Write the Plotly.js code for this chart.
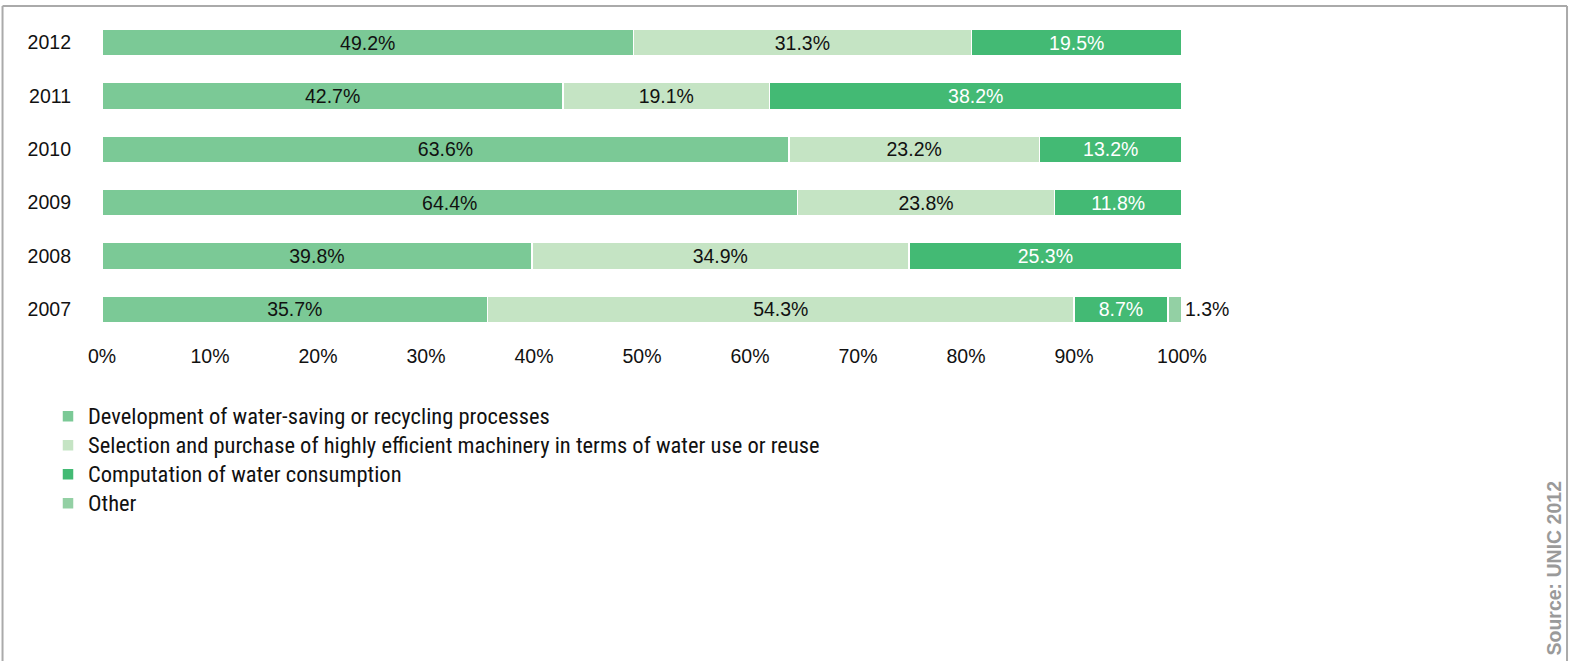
<!DOCTYPE html>
<html>
<head>
<meta charset="utf-8">
<script src="https://cdn.plot.ly/plotly-3.0.1.min.js"></script>
<style>html,body{margin:0;padding:0;background:#fff;}#chart{width:1569px;height:661px;}</style>
</head>
<body>
<div id="chart"></div>
<script>
var years = ["2007", "2008", "2009", "2010", "2011", "2012"];
var seriesNames = [
  "Development of water-saving or recycling processes",
  "Selection and purchase of highly efficient machinery in terms of water use or reuse",
  "Computation of water consumption",
  "Other"
];
var development = [35.7, 39.8, 64.4, 63.6, 42.7, 49.2];
var selection   = [54.3, 34.9, 23.8, 23.2, 19.1, 31.3];
var computation = [8.7, 25.3, 11.8, 13.2, 38.2, 19.5];
var other       = [1.3, null, null, null, null, null];
var xTickVals = [0, 10, 20, 30, 40, 50, 60, 70, 80, 90, 100];
var xTickText = ["0%", "10%", "20%", "30%", "40%", "50%", "60%", "70%", "80%", "90%", "100%"];
var sourceText = "Source: UNIC 2012";

var NARROW = "'Liberation Sans Narrow', 'Roboto Condensed', Roboto, Arial, sans-serif";
var NUM = "'Liberation Sans', Arial, sans-serif";
var colors = ["#7bc996", "#c5e4c4", "#43ba74", "#93d0a4"];
var textColors = ["#111111", "#111111", "#ffffff", "#111111"];
var allValues = [development, selection, computation, other];

function fmt(v) { return v == null ? "" : v.toFixed(1) + "%"; }

var traces = allValues.map(function (vals, i) {
  return {
    type: "bar",
    orientation: "h",
    name: '<span style="font-size:22.5px">' + seriesNames[i] + '</span>',
    y: years,
    x: vals,
    text: vals.map(fmt),
    textposition: i === 3 ? "outside" : "inside",
    insidetextanchor: "middle",
    cliponaxis: false,
    constraintext: "none",
    textfont: {family: NUM, size: 19.5, color: textColors[i]},
    outsidetextfont: {family: NUM, size: 19.5, color: "#111111"},
    insidetextfont: {family: NUM, size: 19.5, color: textColors[i]},
    marker: {color: colors[i], line: {color: "#ffffff", width: 1.5}},
    hoverinfo: "x"
  };
});

var layout = {
  width: 1569,
  height: 661,
  barmode: "stack",
  bargap: 0.5,
  paper_bgcolor: "#ffffff",
  plot_bgcolor: "#ffffff",
  margin: {l: 102, r: 387, t: 16, b: 325, pad: 0},
  font: {family: NARROW, size: 20, color: "#111111"},
  showlegend: true,
  legend: {
    x: -0.05, y: -0.19, xanchor: "left", yanchor: "top",
    orientation: "v",
    traceorder: "normal",
    font: {family: NARROW, size: 20, color: "#111111"},
    itemwidth: 30,
    tracegroupgap: 0,
    bgcolor: "rgba(0,0,0,0)"
  },
  xaxis: {
    range: [0, 100],
    tickvals: xTickVals,
    ticktext: xTickText,
    showgrid: false,
    zeroline: false,
    showline: false,
    ticks: "",
    tickfont: {family: NUM, size: 19.5, color: "#111111"},
    ticklabelstandoff: 6,
    fixedrange: true
  },
  yaxis: {
    categoryorder: "array",
    categoryarray: years,
    showgrid: false,
    zeroline: false,
    showline: false,
    ticks: "",
    tickfont: {family: NUM, size: 19.5, color: "#111111"},
    ticklabelstandoff: 30,
    fixedrange: true
  },
  shapes: [
    {type: "line", xref: "paper", yref: "paper", x0: -0.0921, x1: 1.3565, y0: 1.03125, y1: 1.03125, line: {color: "#aaaaaa", width: 2}},
    {type: "line", xref: "paper", yref: "paper", x0: -0.0921, x1: -0.0921, y0: 1.03125, y1: -1.02, line: {color: "#aaaaaa", width: 2}},
    {type: "line", xref: "paper", yref: "paper", x0: 1.3565, x1: 1.3565, y0: 1.03125, y1: -1.02, line: {color: "#aaaaaa", width: 2}}
  ],
  annotations: [
    {
      text: "<b>" + sourceText + "</b>",
      xref: "paper", yref: "paper",
      x: (1553 - 102) / 1080, y: (336.5 - 569) / 320,
      xanchor: "center", yanchor: "middle",
      textangle: -90,
      showarrow: false,
      font: {family: NUM, size: 19.5, color: "#9a9a9a"}
    }
  ]
};

Plotly.newPlot("chart", traces, layout, {displayModeBar: false, staticPlot: true});
</script>
</body>
</html>
